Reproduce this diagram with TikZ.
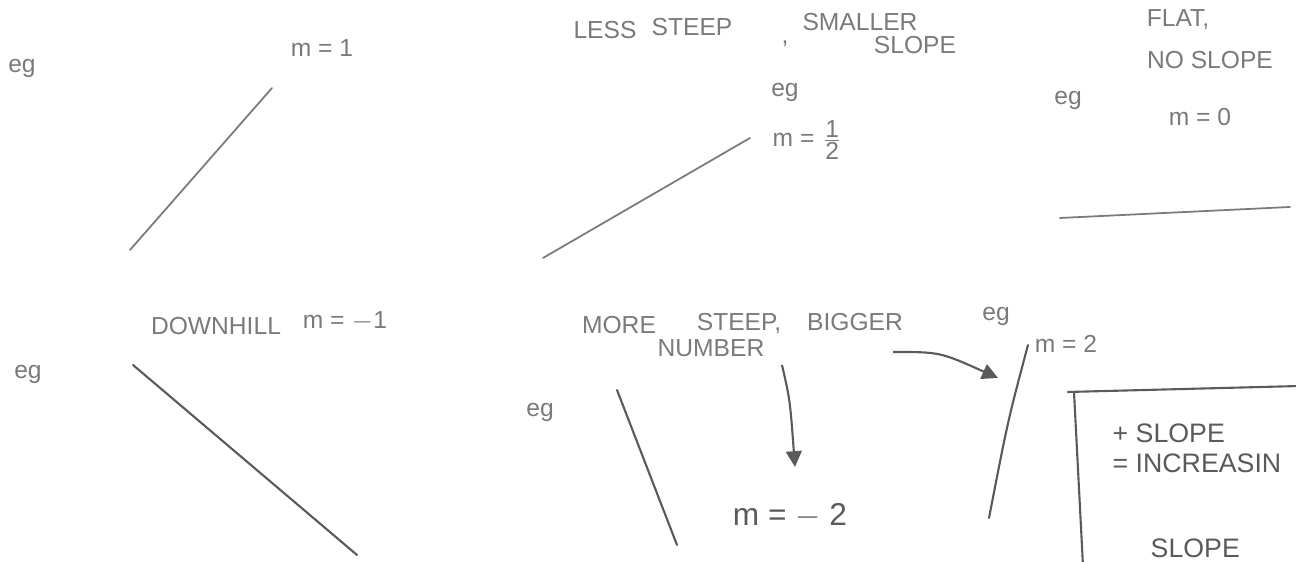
\documentclass[tikz,border=0pt]{standalone}
\usepackage{fontspec}
\setmainfont{Liberation Sans}
\usetikzlibrary{arrows.meta}
\definecolor{pencil}{HTML}{7A7A7A}
\definecolor{pencildark}{HTML}{5A5A5A}
\tikzset{
  hw/.style={text=pencil, font=\fontsize{7}{8}\selectfont, inner sep=0pt},
  hwbig/.style={text=pencildark, font=\fontsize{9}{10}\selectfont, inner sep=0pt},
  hwbox/.style={text=pencildark, font=\fontsize{7.6}{9}\selectfont, inner sep=0pt},
  slopeline/.style={draw=pencil, line width=0.5pt, line cap=round},
  darkline/.style={draw=pencildark, line width=0.6pt, line cap=round},
  pointer/.style={draw=pencildark, line width=0.6pt, -{Triangle[length=4.5pt,width=4.5pt]}},
}
\begin{document}
\begin{tikzpicture}[x=0.01cm,y=-0.01cm]
\useasboundingbox (0,0) rectangle (1296,562);
\clip (0,0) rectangle (1296,562);
% top row
\node[hw] (eg1) at (22,68) {eg};
\node[hw] (m1) at (322,48) {m = 1};
\coordinate (l1a) at (130,250); \coordinate (l1b) at (272,88);
\draw[slopeline] (l1a) -- (l1b);

\node[hw] (less) at (605,30) {LESS};
\node[hw] (steep1) at (692,27) {STEEP};
\node[hw] (comma1) at (785,44) {,};
\node[hw] (smaller) at (860,22) {SMALLER};
\node[hw] (slope1) at (915,45) {SLOPE};
\node[hw] (eg2) at (785,92) {eg};
\node[hw, anchor=west] (mhalf) at (772,140) {m = $\frac{\mbox{1}}{\mbox{2}}$};
\coordinate (l2a) at (543,258); \coordinate (l2b) at (750,138);
\draw[slopeline] (l2a) -- (l2b);

\node[hw] (flat) at (1178,20) {FLAT,};
\node[hw] (noslope) at (1210,60) {NO SLOPE};
\node[hw] (eg3) at (1068,100) {eg};
\node[hw] (m0) at (1200,117) {m = 0};
\coordinate (l3a) at (1060,218); \coordinate (l3b) at (1290,207);
\draw[slopeline] (l3a) -- (l3b);

% bottom row
\node[hw] (downhill) at (216,326) {DOWNHILL};
\node[hw] (mneg1) at (345,322) {m = $-$1};
\node[hw] (eg4) at (28,374) {eg};
\coordinate (l4a) at (133,365); \coordinate (l4b) at (357,555);
\draw[darkline] (l4a) -- (l4b);

\node[hw] (more) at (619,325) {MORE};
\node[hw] (steep2) at (739,323) {STEEP,};
\node[hw] (bigger) at (855,322) {BIGGER};
\node[hw] (number) at (711,348) {NUMBER};
\node[hw] (eg5) at (540,412) {eg};
\coordinate (l5a) at (617,390); \coordinate (l5b) at (677,545);
\draw[darkline] (l5a) -- (l5b);
\node[hwbig] (mneg2) at (790,516) {m = $-$ 2};
\coordinate (a1s) at (782,365); \coordinate (a1e) at (795,467);
\draw[pointer] (a1s) .. controls (790,400) .. (a1e);

\node[hw] (eg6) at (996,316) {eg};
\node[hw] (m2) at (1066,344) {m = 2};
\coordinate (l6a) at (1028,345); \coordinate (l6b) at (989,518);
\draw[darkline] (l6a) .. controls (1008,420) .. (l6b);
\coordinate (a2s) at (893,352); \coordinate (a2e) at (998,378);
\draw[pointer] (a2s) .. controls (940,352) .. (a2e);

% box
\coordinate (bx1) at (1068,392); \coordinate (bx2) at (1300,386);
\coordinate (bx3) at (1083,566);
\draw[darkline] (bx1) -- (bx2);
\draw[darkline] (1074,392) -- (bx3);
\node[hwbox, anchor=west] (plus) at (1112,433) {+ SLOPE};
\node[hwbox, anchor=west] (incr) at (1112,463) {= INCREASIN};
\node[hwbox, anchor=west] (slope2) at (1150,548) {SLOPE};
\end{tikzpicture}
\end{document}
